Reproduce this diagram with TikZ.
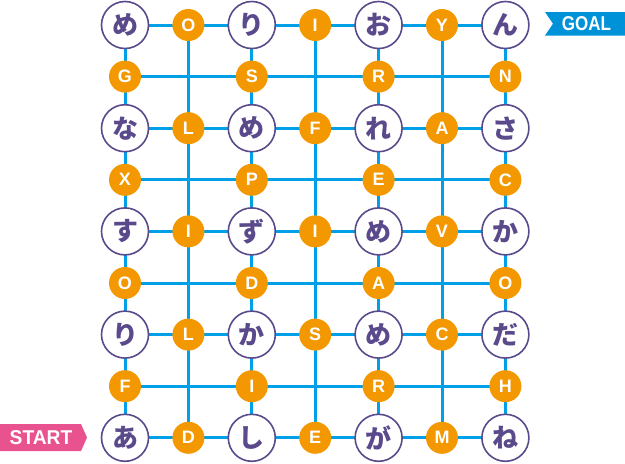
\documentclass[tikz,border=0pt]{standalone}
\usepackage{fontspec}
\usepackage{graphicx}
\setmainfont{Liberation Sans}
\newfontfamily\jpfont{Noto Sans CJK JP}
\definecolor{gridblue}{HTML}{00A0E9}
\definecolor{orng}{HTML}{F39800}
\definecolor{purp}{HTML}{5A4A8C}
\definecolor{goalblue}{HTML}{0092D8}
\definecolor{startpink}{HTML}{E8528F}
\tikzset{
  kana/.style={circle, draw=purp, line width=1.6pt, fill=white, minimum size=47pt, inner sep=0pt,
    text=purp, font=\jpfont\bfseries\fontsize{26}{26}\selectfont},
  letter/.style={circle, fill=orng, minimum size=32pt, inner sep=0pt,
    text=white, font=\bfseries\fontsize{18}{18}\selectfont},
  gridline/.style={draw=gridblue, line width=3pt},
  bannertext/.style={inner sep=0pt, text=white, font=\bfseries\fontsize{20}{20}\selectfont}
}
\begin{document}
\begin{tikzpicture}[x=1pt,y=-1pt]
\useasboundingbox (0,0) rectangle (625,464);
% grid points
\foreach \r in {0,...,8}{
  \foreach \c in {0,...,6}{
    \coordinate (p\r\c) at ({125+63.4*\c},{25+51.6*\r});
  }
}
% grid lines
\foreach \r in {0,...,8}{ \draw[gridline] (p\r0) -- (p\r6); }
\foreach \c in {0,...,6}{ \draw[gridline] (p0\c) -- (p8\c); }
% cells
\foreach \r/\row in {0/{め,O,り,I,お,Y,ん},
                     1/{G,-,S,-,R,-,N},
                     2/{な,L,め,F,れ,A,さ},
                     3/{X,-,P,-,E,-,C},
                     4/{す,I,ず,I,め,V,か},
                     5/{O,-,D,-,A,-,O},
                     6/{り,L,か,S,め,C,だ},
                     7/{F,-,I,-,R,-,H},
                     8/{あ,D,し,E,が,M,ね}}{
  \foreach \t [count=\ci from 0] in \row {
    \pgfmathtruncatemacro\pp{mod(\r+\ci,2)}
    \pgfmathtruncatemacro\rr{mod(\r,2)}
    \ifnum\pp=1
      \node[letter] (n\r\ci) at (p\r\ci) {\t};
    \else
      \ifnum\rr=0
        \node[kana] (n\r\ci) at (p\r\ci) {\t};
      \fi
    \fi
  }
}
% banners
\fill[goalblue] (545,12) -- (625,12) -- (625,35.5) -- (545,35.5) -- (553,23.75) -- cycle;
\node[bannertext] (goal) at (586.5,24) {\scalebox{0.85}[1]{GOAL}};
\fill[startpink] (0,424) -- (81,424) -- (87,437.5) -- (81,451) -- (0,451) -- cycle;
\node[bannertext] (start) at (41,438) {\scalebox{0.96}[1]{START}};
\end{tikzpicture}
\end{document}
